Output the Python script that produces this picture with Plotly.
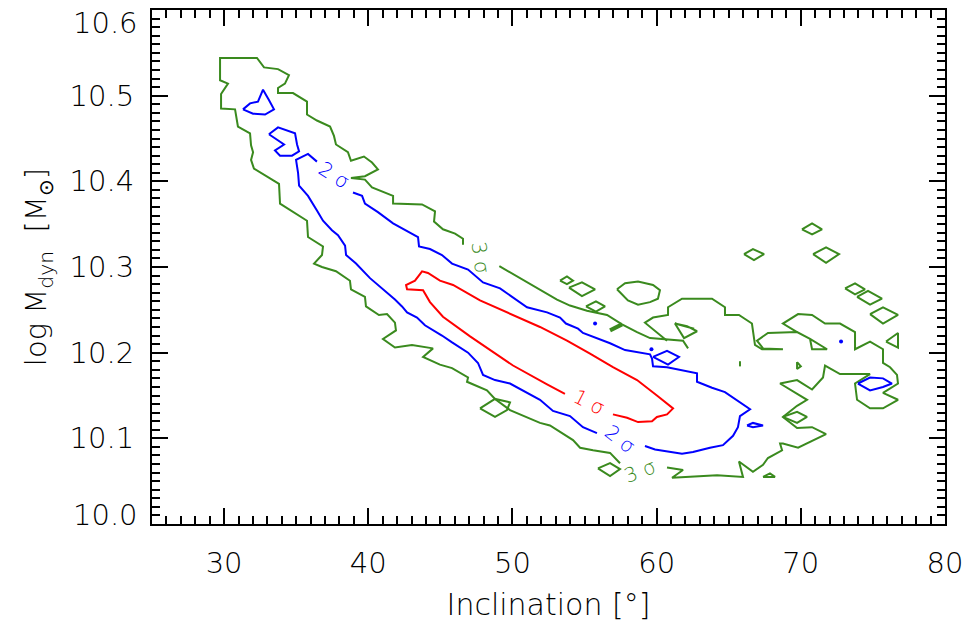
import plotly.graph_objects as go

# ---------------- data (x = inclination [deg], y = log Mdyn) -------------
# 3 sigma (green) contour pieces
g_upper_x = [49.09, 50.87, 51.70, 53.09, 53.99, 55.17, 56.56, 57.60, 58.64, 59.54, 61.83, 62.18]
g_upper_y = [10.301, 10.284, 10.276, 10.262, 10.255, 10.249, 10.244, 10.233, 10.224, 10.217, 10.214, 10.205]

g_bump_x = [60.72, 59.96, 59.19, 59.75, 60.79, 60.79, 61.76, 63.84, 64.74, 64.74, 65.71, 66.61, 66.68,
            66.82, 67.31, 68.76, 67.38, 66.96, 67.72, 69.74, 70.64, 71.82, 70.78, 70.64]
g_bump_y = [10.214, 10.225, 10.235, 10.241, 10.244, 10.253, 10.263, 10.263, 10.253, 10.244, 10.244, 10.234, 10.223,
            10.209, 10.204, 10.204, 10.205, 10.214, 10.223, 10.224, 10.216, 10.204, 10.204, 10.216]

g_right_x = [69.74, 68.76, 69.81, 70.78, 71.68, 72.72, 73.76, 73.76, 74.80, 75.70, 75.70, 76.19, 76.67, 76.74,
             75.70, 76.74, 75.70, 74.80, 73.90, 73.76, 74.80, 72.72, 71.68, 71.54, 70.78, 69.74, 68.56, 70.43,
             69.74, 68.76, 69.74, 70.78, 71.75, 70.64, 69.81, 68.76, 68.56, 68.70, 67.72, 67.38, 66.68, 65.71,
             65.99, 64.19, 62.52, 61.07, 61.83, 60.72]
g_right_y = [10.224, 10.234, 10.245, 10.244, 10.234, 10.234, 10.224, 10.204, 10.213, 10.204, 10.188, 10.183, 10.174,
             10.164, 10.153, 10.145, 10.135, 10.135, 10.145, 10.164, 10.175, 10.175, 10.185, 10.171, 10.157, 10.168,
             10.164, 10.145, 10.138, 10.125, 10.112, 10.113, 10.105, 10.096, 10.089, 10.094, 10.094, 10.086, 10.077,
             10.069, 10.061, 10.073, 10.055, 10.057, 10.055, 10.054, 10.063, 10.066]

g_lower_x = [57.46, 56.77, 55.59, 54.69, 54.20, 52.60, 51.91, 49.83, 48.79, 48.23,
             46.85, 46.92, 45.81, 44.97, 43.80, 44.49, 43.03, 41.85, 41.02, 41.92,
             41.85, 41.30, 40.74, 39.84, 39.77, 38.80, 38.73, 37.76, 36.79, 36.24,
             36.79, 36.86, 35.82, 35.75, 33.88, 33.81, 32.07, 31.87, 32.01, 31.87,
             31.80, 30.96, 30.76, 29.79, 29.79, 30.27, 29.72, 29.72, 32.28, 32.77,
             33.74, 34.50, 34.22, 33.74, 33.74, 34.78, 35.75, 35.75, 36.44, 37.35,
             37.62, 37.76, 38.59, 38.80, 39.70, 40.26, 40.67, 39.77, 38.80, 39.77,
             40.26, 41.72, 41.72, 43.73, 44.63, 44.56, 45.18, 46.02, 46.57, 46.57]
g_lower_y = [10.071, 10.083, 10.086, 10.089, 10.098, 10.115, 10.118, 10.133, 10.146, 10.156,
             10.166, 10.171, 10.182, 10.186, 10.195, 10.205, 10.209, 10.206, 10.216, 10.226,
             10.235, 10.245, 10.244, 10.254, 10.265, 10.274, 10.284, 10.295, 10.300, 10.304,
             10.314, 10.324, 10.335, 10.354, 10.374, 10.397, 10.415, 10.425, 10.434, 10.442,
             10.456, 10.464, 10.484, 10.485, 10.502, 10.514, 10.518, 10.544, 10.544, 10.533,
             10.531, 10.524, 10.514, 10.509, 10.503, 10.503, 10.493, 10.478, 10.471, 10.464,
             10.453, 10.443, 10.434, 10.424, 10.429, 10.422, 10.414, 10.406, 10.404, 10.402,
             10.393, 10.383, 10.374, 10.373, 10.365, 10.353, 10.344, 10.339, 10.333, 10.326]

# small closed green islands
g_islands = [
    ([47.75, 48.79, 49.83, 49.62, 48.79, 47.75], [10.135, 10.146, 10.142, 10.133, 10.125, 10.135]),
    ([55.93, 56.77, 57.46, 56.77, 55.93], [10.065, 10.071, 10.064, 10.056, 10.065]),
    ([67.38, 67.86, 68.21, 67.38], [10.055, 10.059, 10.055, 10.055]),
    ([68.76, 69.74, 70.43, 69.74, 68.76], [10.125, 10.131, 10.125, 10.118, 10.125]),
    ([65.78, 65.78], [10.190, 10.184]),
    ([69.74, 69.74, 70.00, 69.74], [10.189, 10.181, 10.184, 10.189]),
    ([57.25, 57.81, 58.71, 59.75, 60.23, 60.09, 59.54, 58.71, 58.01, 57.25],
     [10.274, 10.281, 10.283, 10.279, 10.273, 10.263, 10.259, 10.256, 10.261, 10.274]),
    ([53.30, 53.78, 54.20, 53.78, 53.30], [10.284, 10.289, 10.284, 10.280, 10.284]),
    ([53.92, 54.82, 55.73, 54.82, 53.92], [10.276, 10.282, 10.274, 10.266, 10.276]),
    ([55.10, 55.79, 56.42, 55.79, 55.10], [10.254, 10.260, 10.254, 10.248, 10.254]),
    ([61.27, 62.11, 62.80, 61.90, 61.27, 62.60], [10.234, 10.231, 10.225, 10.217, 10.234, 10.228]),
    ([70.08, 70.78, 71.47, 70.78, 70.08], [10.344, 10.351, 10.344, 10.338, 10.344]),
    ([66.06, 66.68, 67.45, 66.75, 66.06], [10.315, 10.321, 10.315, 10.308, 10.315]),
    ([70.85, 71.75, 72.65, 71.75, 70.85], [10.315, 10.323, 10.315, 10.305, 10.315]),
    ([73.07, 73.76, 74.45, 73.76, 73.07], [10.275, 10.281, 10.274, 10.268, 10.275]),
    ([73.90, 74.66, 75.63, 74.80, 73.90], [10.265, 10.272, 10.263, 10.256, 10.265]),
    ([74.80, 75.70, 76.74, 75.70, 74.80], [10.245, 10.253, 10.244, 10.234, 10.245]),
    ([75.91, 76.74, 76.74, 75.91], [10.213, 10.223, 10.206, 10.213]),
]
g_bar_x = [56.77, 57.60]
g_bar_y = [10.226, 10.233]

# 2 sigma (blue) contour pieces
b_upper_x = [38.94, 39.57, 39.77, 40.67, 41.72, 42.89, 43.45, 43.52, 44.28, 45.11,
             45.81, 46.92, 47.96, 49.14, 50.38, 51.01, 52.40, 53.30, 53.71, 54.55,
             54.89, 55.86, 56.77, 57.81, 58.71, 59.54, 59.68, 59.75, 60.72, 61.83,
             62.80, 62.80, 63.84, 64.74, 65.78, 66.48, 65.78, 65.64, 65.30, 64.60,
             63.70, 62.52, 61.76, 60.72, 59.89, 59.19]
b_upper_y = [10.387, 10.383, 10.374, 10.364, 10.351, 10.340, 10.335, 10.324, 10.321, 10.314,
             10.304, 10.297, 10.282, 10.275, 10.261, 10.253, 10.247, 10.241, 10.234, 10.228,
             10.223, 10.217, 10.211, 10.203, 10.200, 10.198, 10.193, 10.184, 10.183, 10.179,
             10.176, 10.166, 10.159, 10.154, 10.142, 10.134, 10.126, 10.113, 10.103, 10.092,
             10.089, 10.084, 10.082, 10.085, 10.087, 10.091]
b_lower_x = [55.86, 54.89, 53.99, 52.81, 51.91, 51.01, 49.83, 48.79, 47.96, 47.61,
             46.92, 45.81, 45.11, 43.93, 43.38, 42.69, 42.34, 41.85, 41.02, 40.12,
             39.15, 38.46, 38.39, 37.90, 37.48, 36.86, 36.44, 35.82, 35.20, 35.13,
             34.99, 35.82, 36.44]
b_lower_y = [10.106, 10.113, 10.126, 10.132, 10.145, 10.153, 10.164, 10.168, 10.174, 10.188,
             10.200, 10.212, 10.220, 10.232, 10.241, 10.247, 10.254, 10.262, 10.274, 10.287,
             10.304, 10.314, 10.325, 10.337, 10.343, 10.354, 10.366, 10.383, 10.395, 10.410,
             10.425, 10.432, 10.423]
b_islands = [
    ([31.31, 31.80, 32.35, 32.70, 33.11, 33.46, 32.84, 32.01, 31.31],
     [10.484, 10.491, 10.493, 10.507, 10.495, 10.484, 10.478, 10.479, 10.484]),
    ([33.11, 33.74, 34.92, 35.06, 35.20, 34.71, 33.88, 33.53, 34.16, 33.88, 33.11],
     [10.455, 10.463, 10.456, 10.443, 10.435, 10.430, 10.430, 10.436, 10.443, 10.446, 10.455]),
    ([59.75, 60.72, 61.55, 60.79, 59.75], [10.195, 10.202, 10.195, 10.186, 10.195]),
    ([66.27, 66.68, 67.38, 66.68, 66.27], [10.115, 10.118, 10.115, 10.113, 10.115]),
    ([73.96, 74.80, 75.70, 76.32, 75.70, 74.80, 73.96], [10.164, 10.171, 10.170, 10.164, 10.160, 10.156, 10.164]),
]
b_dots_x = [59.64, 55.73, 72.79]
b_dots_y = [10.204, 10.234, 10.213]

# 1 sigma (red) contour
r_x = [53.64, 52.40, 50.04, 48.44, 47.06, 45.18, 44.28, 43.80, 42.69, 42.62,
       43.24, 43.73, 44.14, 44.97, 45.88, 47.75, 50.04, 51.91, 53.78, 55.38,
       56.97, 58.64, 60.02, 61.14, 60.72, 60.02, 59.68, 58.71, 57.95, 56.97]
r_y = [10.152, 10.163, 10.185, 10.203, 10.219, 10.242, 10.259, 10.273, 10.274, 10.279,
       10.284, 10.295, 10.293, 10.284, 10.279, 10.261, 10.244, 10.230, 10.214, 10.199,
       10.183, 10.168, 10.150, 10.135, 10.128, 10.125, 10.120, 10.119, 10.124, 10.128]

# contour labels
label_text = ["1 σ", "2 σ", "3 σ", "2 σ", "3 σ"]
label_x = [55.31, 57.46, 58.85, 37.62, 47.82]
label_y = [10.142, 10.099, 10.062, 10.407, 10.311]
label_angle = [27, 38, -21, 32, 82]
label_color = ["#ff0000", "#0000ff", "#3a8a1e", "#0000ff", "#3a8a1e"]

x_ticks = [30, 40, 50, 60, 70, 80]
y_ticks = [10.0, 10.1, 10.2, 10.3, 10.4, 10.5, 10.6]
y_tick_text = ["10.0", "10.1", "10.2", "10.3", "10.4", "10.5", "10.6"]

RED, BLUE, GREEN = "#ff0000", "#0000ff", "#3a8a1e"
FONT = "DejaVu Sans"


def join(pieces):
    xs, ys = [], []
    for px, py in pieces:
        assert len(px) == len(py)
        xs += list(px) + [None]
        ys += list(py) + [None]
    return xs, ys


fig = go.Figure()
gx, gy = join([(g_upper_x, g_upper_y), (g_bump_x, g_bump_y), (g_right_x, g_right_y),
               (g_lower_x, g_lower_y)] + g_islands)
fig.add_trace(go.Scatter(x=gx, y=gy, mode="lines", line=dict(color=GREEN, width=2), hoverinfo="skip"))
fig.add_trace(go.Scatter(x=g_bar_x, y=g_bar_y, mode="lines", line=dict(color=GREEN, width=4), hoverinfo="skip"))
bx, by = join([(b_upper_x, b_upper_y), (b_lower_x, b_lower_y)] + b_islands)
fig.add_trace(go.Scatter(x=bx, y=by, mode="lines", line=dict(color=BLUE, width=2), hoverinfo="skip"))
fig.add_trace(go.Scatter(x=b_dots_x, y=b_dots_y, mode="markers",
                         marker=dict(color=BLUE, size=4), hoverinfo="skip"))
rx, ry = join([(r_x, r_y)])
fig.add_trace(go.Scatter(x=rx, y=ry, mode="lines", line=dict(color=RED, width=2), hoverinfo="skip"))

for t, x, y, a, c in zip(label_text, label_x, label_y, label_angle, label_color):
    fig.add_annotation(x=x, y=y, text=t, textangle=a, showarrow=False,
                       font=dict(family=FONT, size=20, color=c, weight=300))

# end y tick labels (drawn slightly inside the frame as in the reference)
fig.add_annotation(xref="paper", x=0, y=y_ticks[0], yref="y", text=y_tick_text[0], showarrow=False,
                   xanchor="right", xshift=-12, yshift=9, font=dict(family=FONT, size=29, color="black", weight=300))
fig.add_annotation(xref="paper", x=0, y=y_ticks[-1], yref="y", text=y_tick_text[-1], showarrow=False,
                   xanchor="right", xshift=-12, yshift=-13, font=dict(family=FONT, size=29, color="black", weight=300))

axis_common = dict(showline=True, linewidth=2, linecolor="black", mirror="allticks",
                   ticks="inside", ticklen=16, tickwidth=2, tickcolor="black",
                   showgrid=False, zeroline=False, automargin=False,
                   tickfont=dict(family=FONT, size=29, color="black", weight=300))

fig.update_xaxes(range=[25, 80], tickvals=x_ticks, ticklabelstandoff=12,
                 minor=dict(ticks="inside", ticklen=8, tickwidth=2, tickcolor="black", dtick=1, tick0=25,
                            showgrid=False),
                 title=dict(text="Inclination [°]", font=dict(family=FONT, size=30, color="black", weight=300),
                            standoff=16),
                 **axis_common)
fig.update_yaxes(range=[10.0, 10.6], tickvals=y_ticks[1:-1], ticktext=y_tick_text[1:-1],
                 ticklabelstandoff=10,
                 minor=dict(ticks="inside", ticklen=8, tickwidth=2, tickcolor="black", dtick=0.01, tick0=10.0,
                            showgrid=False),
                 title=dict(text="log M<sub>dyn</sub>  [M<sub>⊙</sub>]",
                            font=dict(family=FONT, size=29, color="black", weight=300), standoff=14),
                 **axis_common)

fig.update_layout(width=976, height=622, margin=dict(l=152, r=31, t=10, b=98),
                  plot_bgcolor="white", paper_bgcolor="white", showlegend=False)

fig.write_html("out.html")
